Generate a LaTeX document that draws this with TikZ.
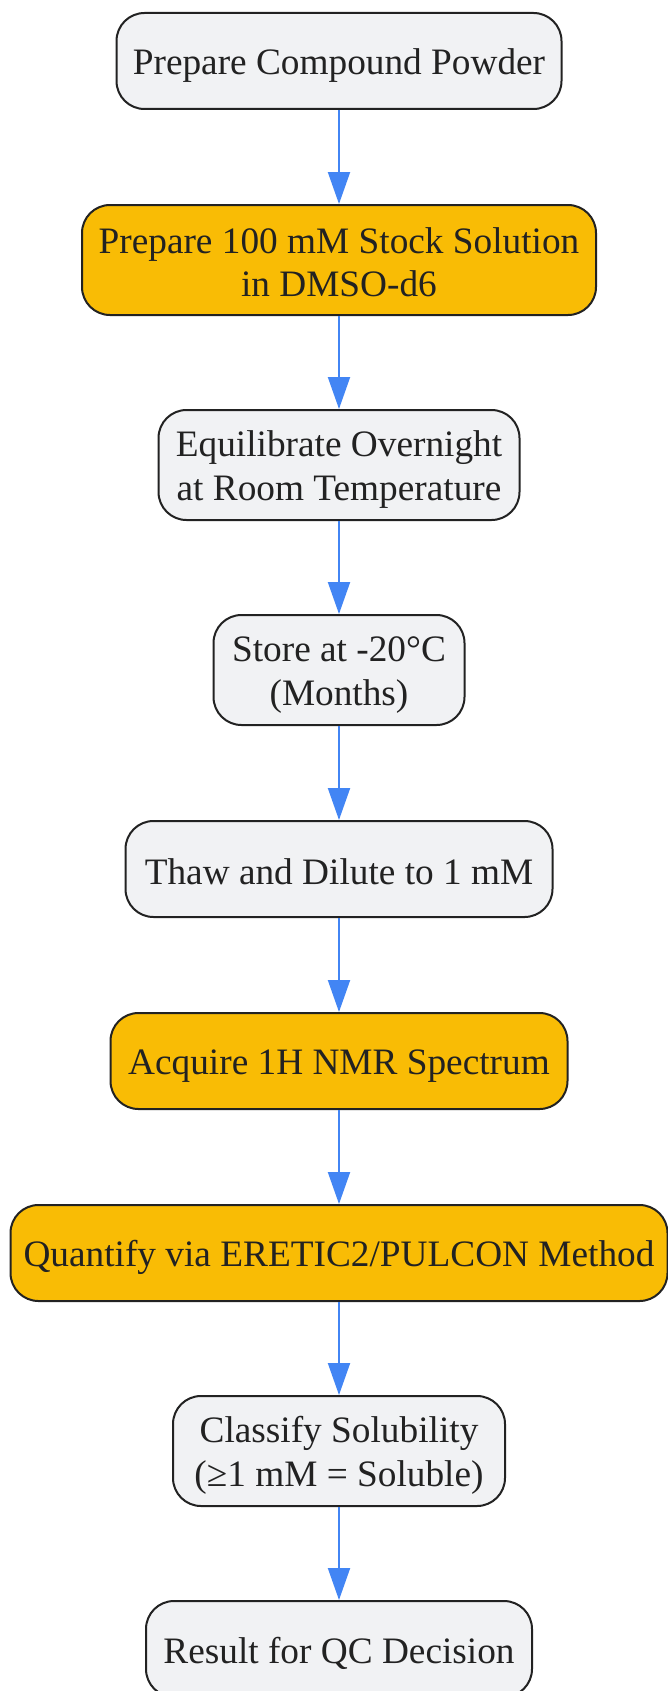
\documentclass[tikz,border=0pt]{standalone}
\usepackage{fontspec}
\setmainfont{Liberation Serif}
\usetikzlibrary{arrows.meta}
\definecolor{boxfill}{RGB}{241,242,244}
\definecolor{hifill}{RGB}{249,188,5}
\definecolor{edgecol}{RGB}{34,34,34}
\definecolor{flow}{RGB}{66,133,244}
\definecolor{txt}{RGB}{34,34,34}
\newcommand{\lnstrut}{\rule[-4.4pt]{0pt}{38.9pt}}
\begin{document}
\begin{tikzpicture}[x=1pt,y=-1pt,
  box/.style={draw=edgecol, line width=2pt, rounded corners=28pt, fill=boxfill, text=txt,
    font=\fontsize{37.3}{43.5}\selectfont, align=center, inner sep=0pt},
  hi/.style={box, fill=hifill},
  one/.style={minimum height=96pt},
  two/.style={minimum height=110pt},
  flowarrow/.style={draw=flow, line width=2pt, -{Triangle[length=32pt,width=22pt]}}]
\fill[white] (0,0) rectangle (668,1691);
\useasboundingbox (0,0) rectangle (668,1691);
\node[box, one, minimum width=445pt] (n1) at (339,61) {\lnstrut Prepare Compound Powder};
\node[hi, two, minimum width=514pt] (n2) at (339,260) {\lnstrut Prepare 100 mM Stock Solution\\\lnstrut in DMSO-d6};
\node[box, two, minimum width=361pt] (n3) at (339,465) {\lnstrut Equilibrate Overnight\\\lnstrut at Room Temperature};
\node[box, two, minimum width=251pt] (n4) at (339,670) {\lnstrut Store at -20°C\\\lnstrut (Months)};
\node[box, one, minimum width=427pt] (n5) at (339,869) {\lnstrut Thaw and Dilute to 1 mM};
\node[hi, one, minimum width=457pt] (n6) at (339,1061) {\lnstrut Acquire 1H NMR Spectrum};
\node[hi, one, minimum width=657pt] (n7) at (339,1253) {\lnstrut Quantify via ERETIC2/PULCON Method};
\node[box, two, minimum width=332pt] (n8) at (339,1451) {\lnstrut Classify Solubility\\\lnstrut (≥1 mM = Soluble)};
\node[box, one, minimum width=386pt] (n9) at (339,1649) {\lnstrut Result for QC Decision};
\draw[flowarrow] (n1) -- (n2);
\draw[flowarrow] (n2) -- (n3);
\draw[flowarrow] (n3) -- (n4);
\draw[flowarrow] (n4) -- (n5);
\draw[flowarrow] (n5) -- (n6);
\draw[flowarrow] (n6) -- (n7);
\draw[flowarrow] (n7) -- (n8);
\draw[flowarrow] (n8) -- (n9);
\end{tikzpicture}
\end{document}
